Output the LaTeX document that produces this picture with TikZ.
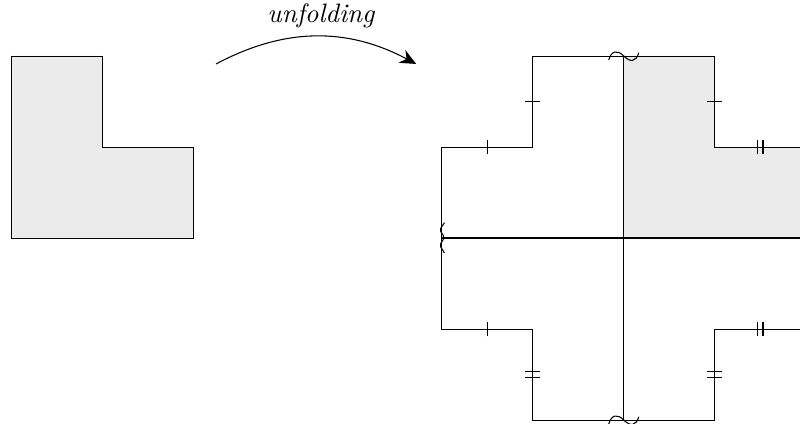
\documentclass[tikz,border=0pt]{standalone}
\usetikzlibrary{arrows.meta}
\tikzset{
    outline/.style={black, line width=0.28pt},
    axis/.style={black, line width=0.45pt},
    wave/.style={black, line width=0.4pt},
    tick/.style={black, line width=0.42pt},
}
\newcommand{\wavemark}[1]{%
    \draw[wave, shift={(#1)}] (-0.165,-0.045) .. controls (-0.135,0.06) and (-0.07,0.07) .. (0,0)
        .. controls (0.07,-0.07) and (0.135,-0.07) .. (0.165,0.035);}
\begin{document}
\begin{tikzpicture}[scale=1.2]
    \clip (-0.121,-2.044) rectangle (8.670,2.615);

    % L-shaped region
    \draw[outline, fill=black!8] (0,0) -- (2,0) -- (2,1) -- (1,1) -- (1,2) -- (0,2) -- cycle;

    % unfolding arrow
    \coordinate (start) at (2.253,1.912);
    \coordinate (end) at (4.451,1.912);
    \draw[-{Stealth[length=6pt,width=5.4pt]}] (start) to[bend left=28] (end);
    \node (label) at (3.41,2.44) {\textit{unfolding}};

    % unfolded region
    \begin{scope}[shift={(6.733,0)}]
        \fill[black!8] (0,0) -- (2,0) -- (2,1) -- (1,1) -- (1,2) -- (0,2) -- cycle;
        \draw[outline] (0,2) -- (1,2) -- (1,1) -- (2,1);
        \draw[outline] (0,2) -- (-1,2) -- (-1,1) -- (-2,1) -- (-2,-1) -- (-1,-1) -- (-1,-2) -- (1,-2) -- (1,-1) -- (2,-1);
        \draw[axis] (0,2) -- (0,-2);
        \draw[axis] (-2,0) -- (2,0);

        % single ticks
        \foreach \x/\y in {-1/1.5, 1/1.5} {
            \draw[tick] (\x-0.08,\y) -- (\x+0.08,\y);
        }
        \foreach \x/\y in {-1.5/1, -1.5/-1} {
            \draw[tick] (\x,\y-0.08) -- (\x,\y+0.08);
        }

        % double ticks
        \foreach \x/\y in {-1/-1.5, 1/-1.5} {
            \draw[tick] (\x-0.08,\y+0.03) -- (\x+0.08,\y+0.03);
            \draw[tick] (\x-0.08,\y-0.03) -- (\x+0.08,\y-0.03);
        }
        \foreach \x/\y in {1.5/1, 1.5/-1} {
            \draw[tick] (\x-0.03,\y-0.08) -- (\x-0.03,\y+0.08);
            \draw[tick] (\x+0.03,\y-0.08) -- (\x+0.03,\y+0.08);
        }

        % glue marks
        \wavemark{0,2}
        \wavemark{0,-2}
        \draw[wave, rounded corners=0.6pt] (-1.97,0.168) -- (-2.022,0.09) -- (-1.97,0.005)
            -- (-2.022,-0.08) -- (-1.97,-0.165);
    \end{scope}
\end{tikzpicture}
\end{document}
